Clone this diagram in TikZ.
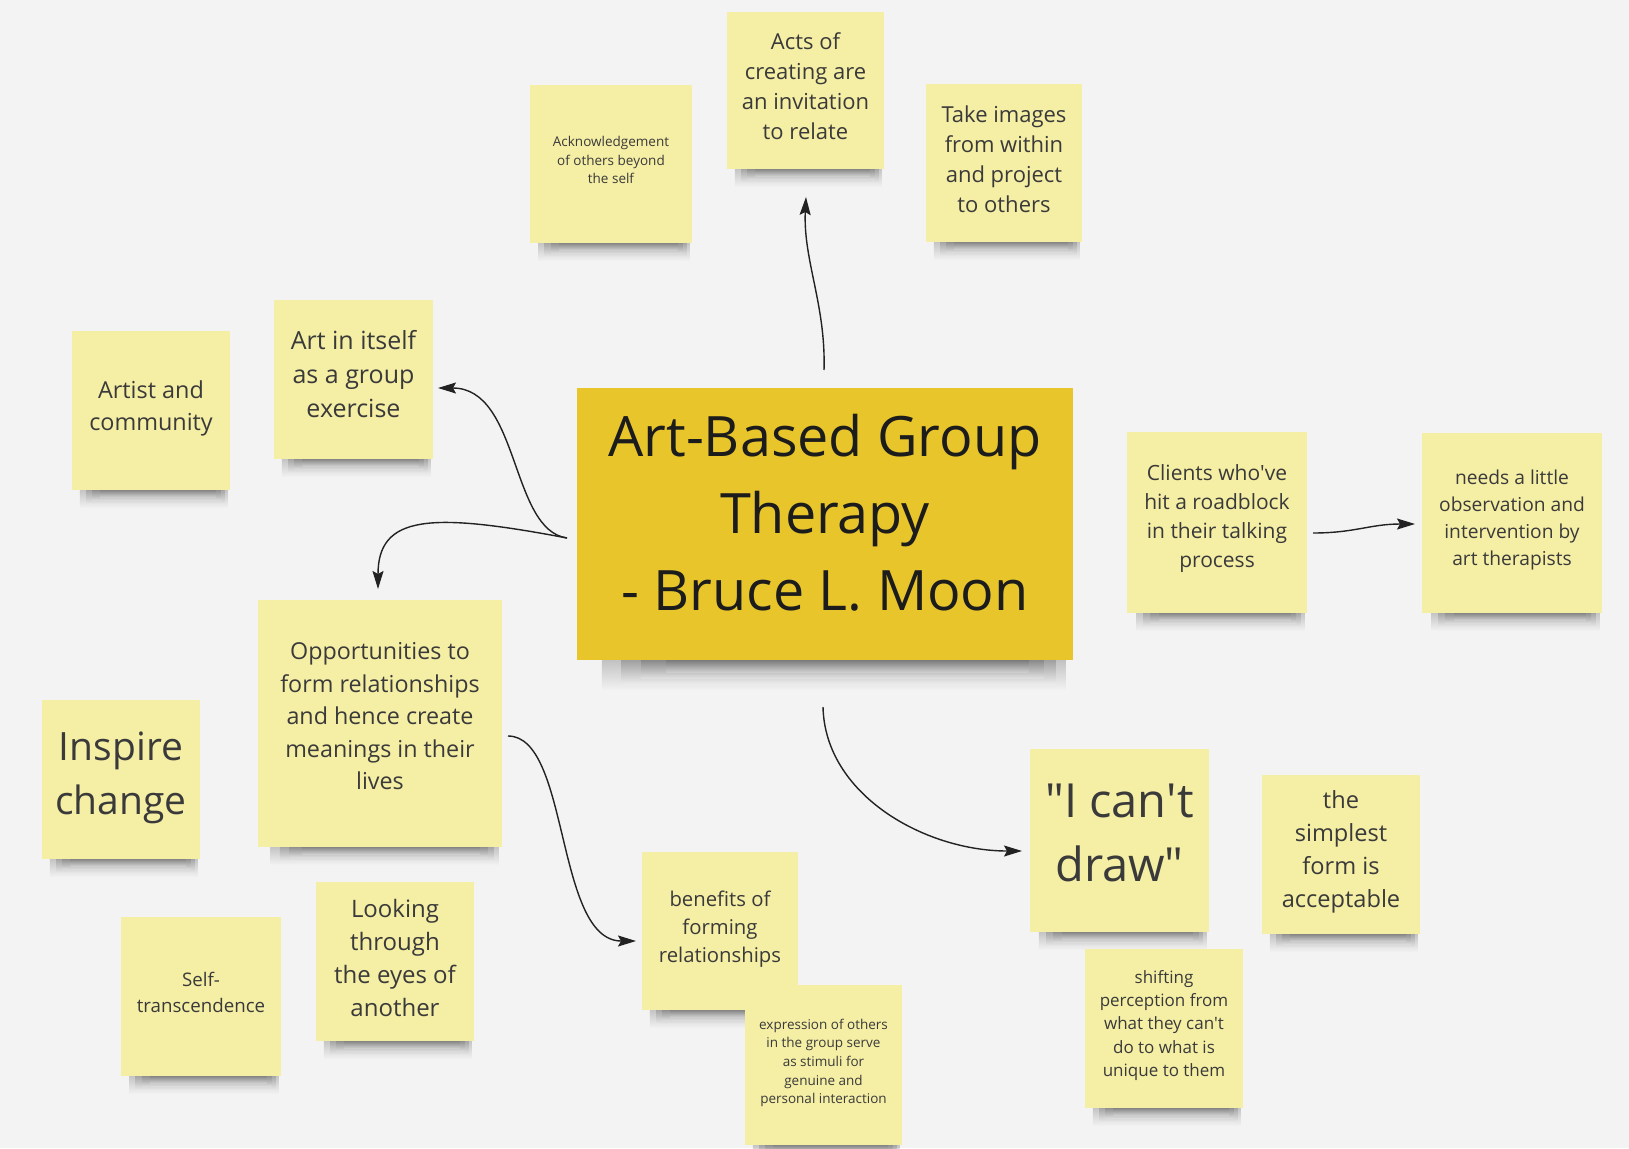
\documentclass[tikz,border=0pt]{standalone}
\usepackage{fontspec}
\setmainfont{Open Sans}
\newfontfamily\osplain{Open Sans}
\usetikzlibrary{arrows.meta,calc,backgrounds}
\definecolor{bgc}{HTML}{F3F3F3}
\definecolor{notec}{HTML}{F5EEA5}
\definecolor{mainc}{HTML}{E8C62B}
\definecolor{txtc}{HTML}{3A3A3A}
\definecolor{maintxt}{HTML}{1C1C1C}
\definecolor{linec}{HTML}{222222}
\tikzset{
  sticky/.style={fill=notec, inner sep=0pt, outer sep=0pt},
  bigsticky/.style={fill=mainc, inner sep=0pt, outer sep=0pt},
  notetext/.style={text=txtc, align=center, inner sep=0pt},
  maintext/.style={text=maintxt, align=center, inner sep=0pt},
  conn/.style={draw=linec, line width=1.4pt, -{Stealth[length=18pt,width=11pt,inset=3pt]}},
}
% #1 name, #2 x, #3 y, #4 w, #5 h, #6 font size, #7 leading, #8 text lift, #9 text
\newcommand\sticknote[9]{%
  \node[sticky, minimum width=#4pt, minimum height=#5pt] (#1) at (#2,#3) {};
  \node[notetext, font=\fontsize{#6}{#7}\selectfont] (#1t) at ($(#1.center)+(0,-#8)$) {#9};
}
% #1 node, #2 depth
\newcommand\noteshadow[2]{%
  \foreach \a/\c/\d in {0.05/0.985/1.0, 0.09/0.965/0.8, 0.13/0.94/0.6, 0.18/0.91/0.42}{
    \shade[top color=black!80, bottom color=bgc, opacity=0.28]
      ($(#1.south west)!\a!(#1.south east)+(0,-3)$) rectangle ($(#1.south west)!\c!(#1.south east)+(0,{#2*\d})$);
  }%
}
\newcommand\sq{{\osplain\symbol{39}}}
\newcommand\dq{{\osplain\symbol{34}}}
\begin{document}
\begin{tikzpicture}[x=1pt,y=-1pt]
\useasboundingbox (0,0) rectangle (1629,1148);

% notes
\sticknote{ack}{611}{164}{162}{158}{13.5}{18.7}{4}{Acknowledgement\\of others beyond\\the self}
\sticknote{acts}{805.5}{90.5}{157}{157}{22}{30}{4}{Acts of\\creating are\\an invitation\\to relate}
\sticknote{take}{1004}{163}{156}{158}{22}{30}{4}{Take images\\from within\\and project\\to others}
\sticknote{artist}{151}{410.5}{158}{159}{23.4}{32}{2}{Artist and\\community}
\sticknote{artin}{353.5}{379.5}{159}{159}{25}{34}{5}{Art in itself\\as a group\\exercise}
\sticknote{clients}{1217}{522.5}{180}{181}{21}{29}{4}{Clients who\sq ve\\hit a roadblock\\in their talking\\process}
\sticknote{needs}{1512}{523}{180}{180}{19.2}{27}{3}{needs a little\\observation and\\intervention by\\art therapists}
\sticknote{opp}{380}{723.5}{244}{247}{23.3}{32.5}{7}{Opportunities to\\form relationships\\and hence create\\meanings in their\\lives}
\sticknote{inspire}{121}{779.5}{158}{159}{39}{54}{2}{Inspire\\change}
\sticknote{selft}{201}{996.5}{160}{159}{18.7}{26}{4}{Self-\\transcendence}
\sticknote{looking}{395}{961.5}{158}{159}{24}{33}{4}{Looking\\through\\the eyes of\\another}
\sticknote{benefits}{720}{931}{156}{158}{20.3}{28}{2}{benefits of\\forming\\relationships}
\sticknote{expr}{823.5}{1065}{157}{160}{13.5}{18.7}{2}{expression of others\\in the group serve\\as stimuli for\\genuine and\\personal interaction}
\sticknote{icant}{1119.5}{840.5}{179}{183}{47}{64}{7.5}{\dq I can\sq t\\draw\dq}
\sticknote{simplest}{1341}{854.5}{158}{159}{23.6}{33}{3}{the\\simplest\\form is\\acceptable}
\sticknote{shifting}{1164}{1028.5}{158}{159}{17}{23.4}{3}{shifting\\perception from\\what they can\sq t\\do to what is\\unique to them}

% central note
\node[bigsticky, minimum width=496pt, minimum height=272pt] (main) at (825,524) {};
\node[maintext, font=\fontsize{55.7}{77}\selectfont] (maint) at ($(main.center)+(0,-11)$) {Art-Based Group\\Therapy\\- Bruce L. Moon};

% connector end points
\coordinate (a1s) at (824,370);  \coordinate (a1e) at (806,197);
\coordinate (a2s) at (567,538);  \coordinate (a2e) at (438,388);
\coordinate (a3e) at (378,589);
\coordinate (a4s) at (508,736);  \coordinate (a4e) at (636,941);
\coordinate (a5s) at (823,707);  \coordinate (a5e) at (1022,851);
\coordinate (a6s) at (1313,533); \coordinate (a6e) at (1415,524);

\draw[conn] (a1s) .. controls (826,305) and (803,260) .. (a1e);
\draw[conn] (a2s) .. controls (510,530) and (520,388) .. (a2e);
\draw[conn] (a2s) .. controls (430,512) and (378,515) .. (a3e);
\draw[conn] (a4s) .. controls (570,736) and (555,941) .. (a4e);
\draw[conn] (a5s) .. controls (825,795) and (925,851) .. (a5e);
\draw[conn] (a6s) .. controls (1355,533) and (1370,524) .. (a6e);

\begin{scope}[on background layer]
\fill[bgc] (0,0) rectangle (1629,1148);
\foreach \n in {ack,acts,take,artist,artin,clients,needs,opp,inspire,selft,looking,benefits,expr,icant,simplest,shifting}{
  \noteshadow{\n}{18}
}
\noteshadow{main}{30}
\end{scope}
\end{tikzpicture}
\end{document}
